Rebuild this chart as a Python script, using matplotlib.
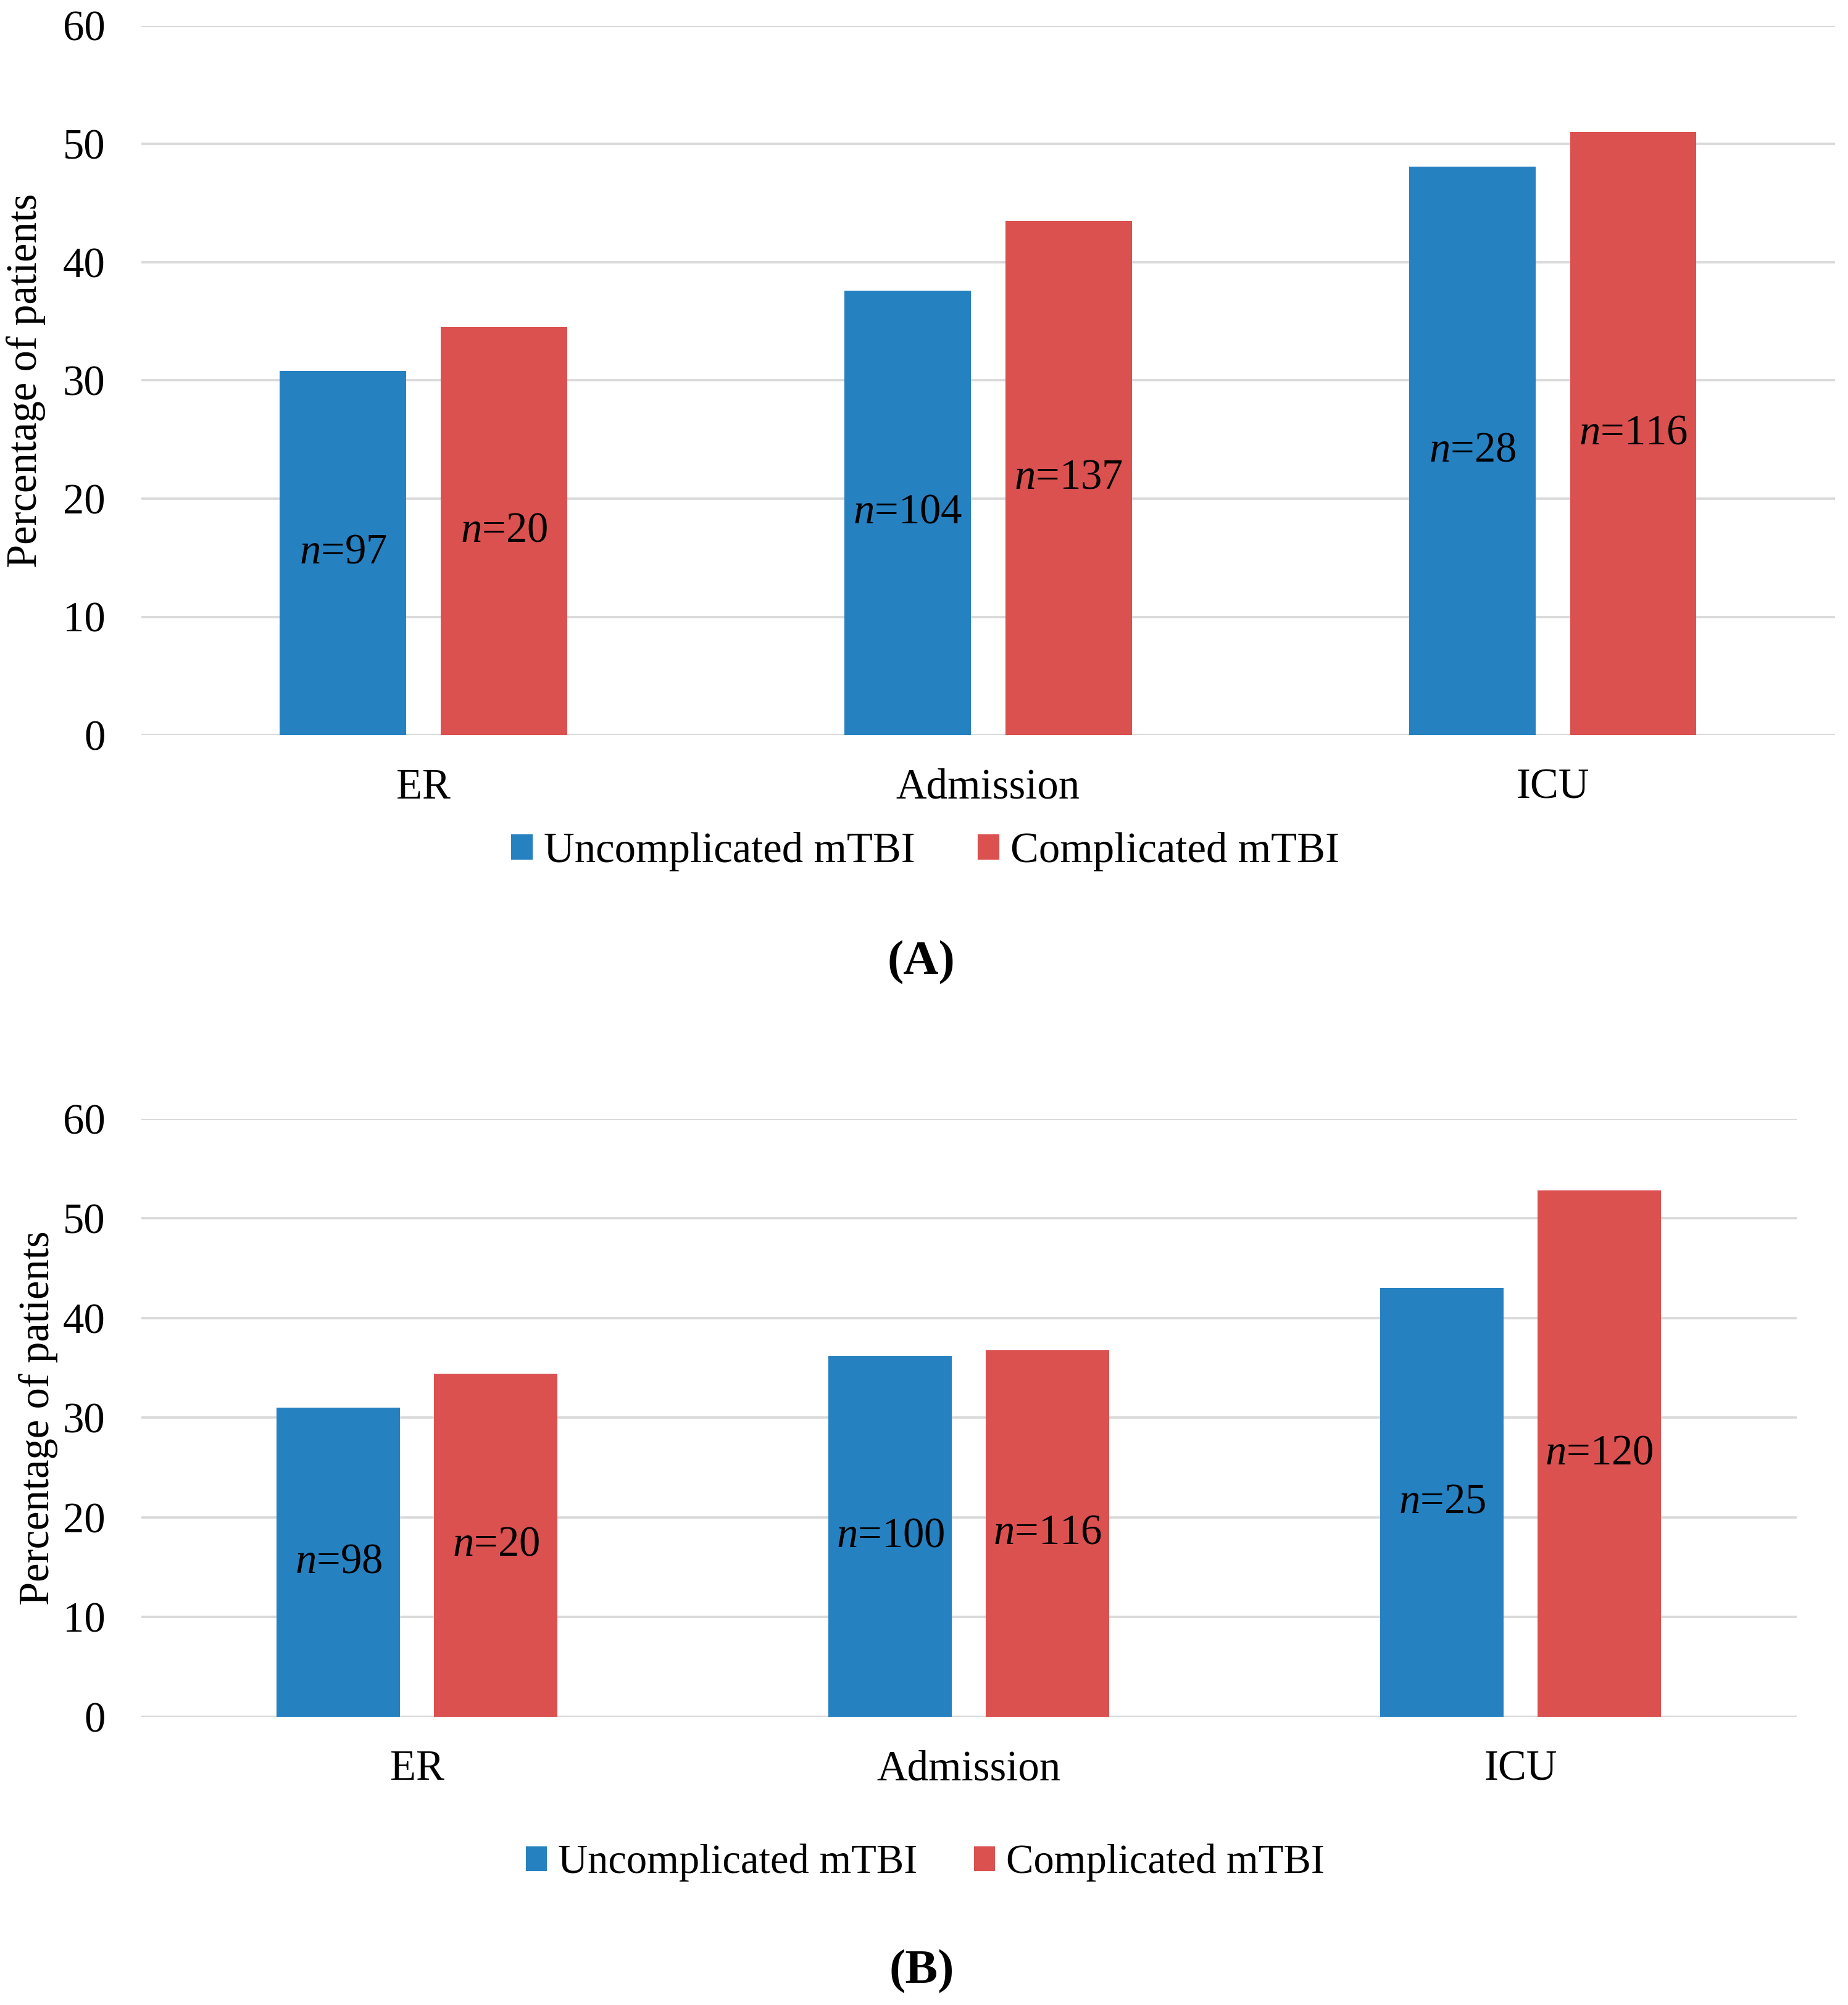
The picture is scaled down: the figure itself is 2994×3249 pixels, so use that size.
import matplotlib

matplotlib.use("Agg")
import matplotlib.pyplot as plt
import numpy as np
from matplotlib.patches import Patch

plt.rcParams["font.family"] = ["Liberation Serif", "DejaVu Serif"]
plt.rcParams["mathtext.fontset"] = "custom"
plt.rcParams["mathtext.it"] = "Liberation Serif:italic"
plt.rcParams["mathtext.rm"] = "Liberation Serif"

categories = ["ER", "Admission", "ICU"]
series_names = ["Uncomplicated mTBI", "Complicated mTBI"]

# panel A
a_uncomplicated = [30.8, 37.6, 48.1]
a_complicated = [34.5, 43.5, 51.0]
a_n_uncomplicated = [97, 104, 28]
a_n_complicated = [20, 137, 116]

# panel B
b_uncomplicated = [31.0, 36.2, 43.0]
b_complicated = [34.4, 36.8, 52.8]
b_n_uncomplicated = [98, 100, 25]
b_n_complicated = [20, 116, 120]

BLUE = "#2681c1"
RED = "#db5150"
FS = 16.5


def draw_panel(ax, unc, comp, n_unc, n_comp, label_x):
    x = np.arange(len(categories))
    w = 0.224
    off = 0.1425
    ax.bar(x - off, unc, width=w, color=BLUE, zorder=3)
    ax.bar(x + off, comp, width=w, color=RED, zorder=3)
    for xi, v, n in zip(x - off, unc, n_unc):
        ax.text(xi, v / 2, rf"$\mathit{{n}}$={n}", ha="center", va="center",
                fontsize=FS, zorder=4)
    for xi, v, n in zip(x + off, comp, n_comp):
        ax.text(xi, v / 2, rf"$\mathit{{n}}$={n}", ha="center", va="center",
                fontsize=FS, zorder=4)

    ax.set_xlim(-0.5, 2.5)
    ax.set_ylim(0, 60)
    ax.set_yticks(range(0, 61, 10))
    ax.set_xticks(x)
    ax.set_xticklabels(categories)
    ax.tick_params(axis="both", length=0, labelsize=FS)
    ax.tick_params(axis="y", pad=14)
    ax.tick_params(axis="x", pad=13)
    ax.grid(axis="y", color="#d9d9d9", linewidth=0.9, zorder=0)
    ax.set_axisbelow(True)
    for s in ax.spines.values():
        s.set_visible(False)
    ax.set_ylabel("Percentage of patients", fontsize=FS, va="center")
    ax.yaxis.set_label_coords(label_x, 0.5)


fig = plt.figure(figsize=(2994 / 300, 3249 / 300), dpi=300)

ax_a = fig.add_axes([0.0764, 0.6334, 0.9930 - 0.0764, 0.9872 - 0.6334])
draw_panel(ax_a, a_uncomplicated, a_complicated, a_n_uncomplicated,
           a_n_complicated, -0.068)

ax_b = fig.add_axes([0.0764, 0.1438, 0.9722 - 0.0764, 0.4420 - 0.1438])
draw_panel(ax_b, b_uncomplicated, b_complicated, b_n_uncomplicated,
           b_n_complicated, -0.062)

handles = [Patch(color=BLUE, label=series_names[0]),
           Patch(color=RED, label=series_names[1])]
fig.legend(handles=handles, loc="center", bbox_to_anchor=(0.501, 0.5752),
           ncol=2, frameon=False, fontsize=FS, handlelength=0.45,
           handleheight=0.45, handletextpad=0.3, columnspacing=1.5)
fig.legend(handles=handles, loc="center", bbox_to_anchor=(0.501, 0.0709),
           ncol=2, frameon=False, fontsize=FS - 0.5, handlelength=0.45,
           handleheight=0.45, handletextpad=0.3, columnspacing=1.4)

fig.text(0.4986, 0.520, "(A)", ha="center", va="center", fontsize=19,
         fontweight="bold")
fig.text(0.4986, 0.0166, "(B)", ha="center", va="center", fontsize=19,
         fontweight="bold")

fig.savefig("out.png", dpi=300)
plt.close(fig)
